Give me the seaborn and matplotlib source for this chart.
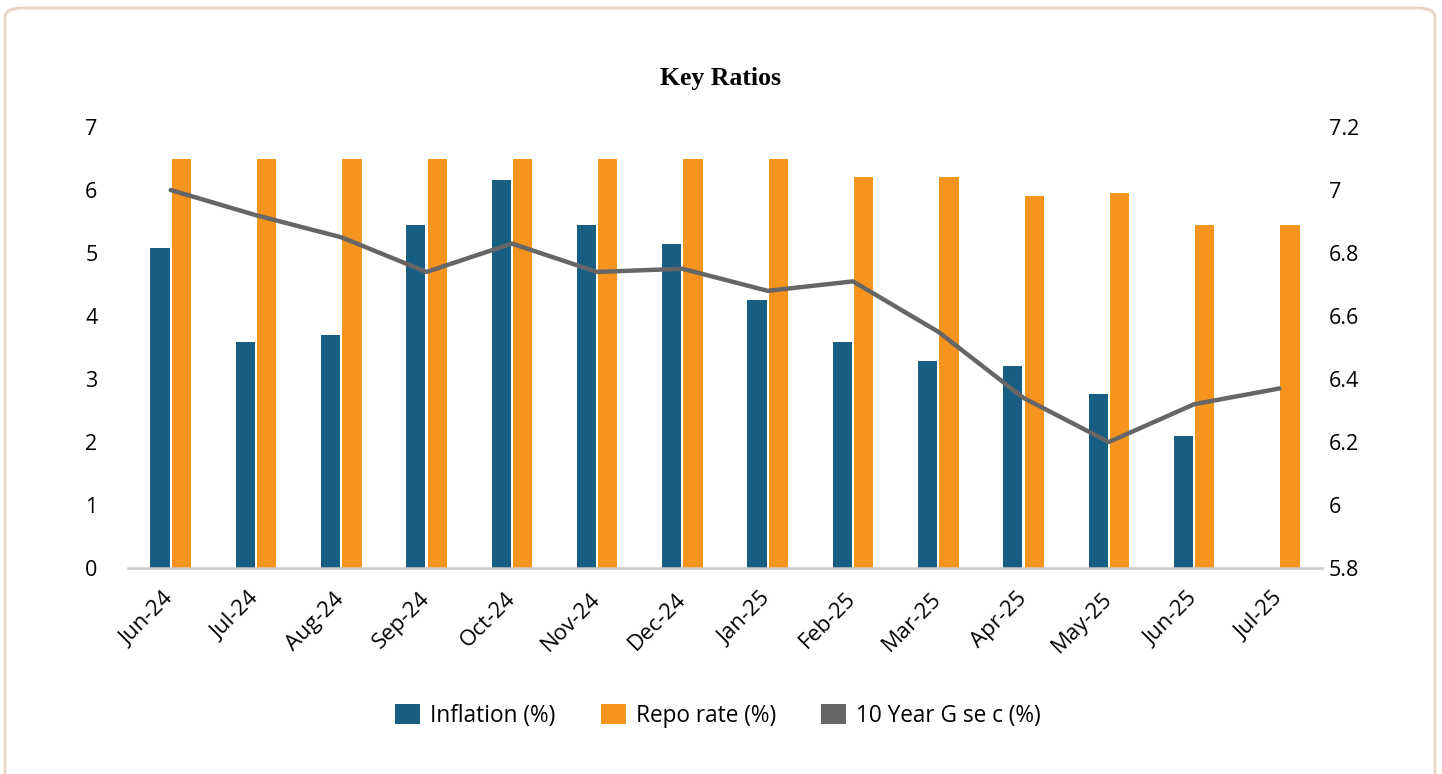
import matplotlib
matplotlib.use("Agg")
import matplotlib.pyplot as plt
import numpy as np
import pandas as pd
import seaborn as sns
from matplotlib.patches import FancyBboxPatch, Patch

MONTHS = ["Jun-24", "Jul-24", "Aug-24", "Sep-24", "Oct-24", "Nov-24", "Dec-24",
          "Jan-25", "Feb-25", "Mar-25", "Apr-25", "May-25", "Jun-25", "Jul-25"]
INFLATION = [5.08, 3.58, 3.70, 5.45, 6.16, 5.45, 5.14, 4.25, 3.58, 3.28, 3.20, 2.77, 2.09, np.nan]
REPO = [6.5, 6.5, 6.5, 6.5, 6.5, 6.5, 6.5, 6.5, 6.21, 6.21, 5.91, 5.96, 5.45, 5.45]
GSEC = [7.00, 6.92, 6.85, 6.74, 6.83, 6.74, 6.75, 6.68, 6.71, 6.55, 6.34, 6.20, 6.32, 6.37]

SERIES = ["Inflation (%)", "Repo rate (%)", "10 Year G se c (%)"]
COLORS = ["#175E82", "#F7941E", "#666666"]

sns.set_theme(style="white")
plt.rcParams["font.family"] = ["Open Sans", "DejaVu Sans"]
plt.rcParams["text.color"] = "black"

bars = pd.DataFrame({
    "month": MONTHS * 2,
    "value": INFLATION + REPO,
    "series": [SERIES[0]] * len(MONTHS) + [SERIES[1]] * len(MONTHS),
})

fig = plt.figure(figsize=(14.42, 7.74), dpi=100)
fig.patch.set_facecolor("white")

# rounded card border
card = FancyBboxPatch((5 / 1442, -0.02), 1430 / 1442, 1 - 8 / 774 + 0.02,
                      boxstyle="round,pad=0,rounding_size=0.012",
                      transform=fig.transFigure, facecolor="none",
                      edgecolor="#e6d4c4", linewidth=2, zorder=-1)
fig.patches.append(card)

ax = fig.add_axes([0.0888, 0.2661, 0.828, 0.5698])
ax.patch.set_alpha(0)
sns.barplot(data=bars, x="month", y="value", hue="series", order=MONTHS,
            hue_order=SERIES[:2], palette=COLORS[:2], width=0.5, gap=0.1,
            errorbar=None, legend=False, saturation=1, linewidth=0, ax=ax)
ax.set_ylim(0, 7)
ax.set_xlim(-0.5, len(MONTHS) - 0.5)
ax.set_xlabel("")
ax.set_ylabel("")
ax.set_yticks(range(0, 8))
ax.set_yticklabels([str(v) for v in range(0, 8)])

ax2 = ax.twinx()
sns.lineplot(x=np.arange(len(MONTHS)), y=GSEC, color=COLORS[2], linewidth=3.2, ax=ax2)
ax2.set_ylim(5.8, 7.2)
ticks2 = [5.8, 6.0, 6.2, 6.4, 6.6, 6.8, 7.0, 7.2]
ax2.set_yticks(ticks2)
ax2.set_yticklabels([f"{t:g}" for t in ticks2])
ax2.set_xlim(-0.5, len(MONTHS) - 0.5)

for a in (ax, ax2):
    for side in ("top", "left", "right", "bottom"):
        a.spines[side].set_visible(False)
ax.spines["bottom"].set_visible(True)
ax.spines["bottom"].set_color("#c9c9c9")
ax.spines["bottom"].set_linewidth(1.8)

ax.tick_params(axis="y", length=0, pad=22, labelsize=15.5, colors="black")
ax2.tick_params(axis="y", length=0, pad=5, labelsize=15.5, colors="black")
ax.tick_params(axis="x", length=0, pad=20, labelsize=16, colors="black")
for lbl in ax.get_xticklabels():
    lbl.set_rotation(45)
    lbl.set_ha("right")
    lbl.set_va("center")
    lbl.set_rotation_mode("anchor")

fig.text(0.5, 0.899, "Key Ratios", ha="center", va="center",
         fontsize=18.5, fontweight="bold", family="Liberation Serif")

handles = [Patch(facecolor=c, edgecolor="none") for c in COLORS]
fig.legend(handles, SERIES, loc="center", bbox_to_anchor=(0.498, 0.075), ncol=3,
           frameon=False, fontsize=16.3, handlelength=1.1, handleheight=1.0,
           handletextpad=0.45, columnspacing=2.0)

fig.savefig("out.png", dpi=100)
